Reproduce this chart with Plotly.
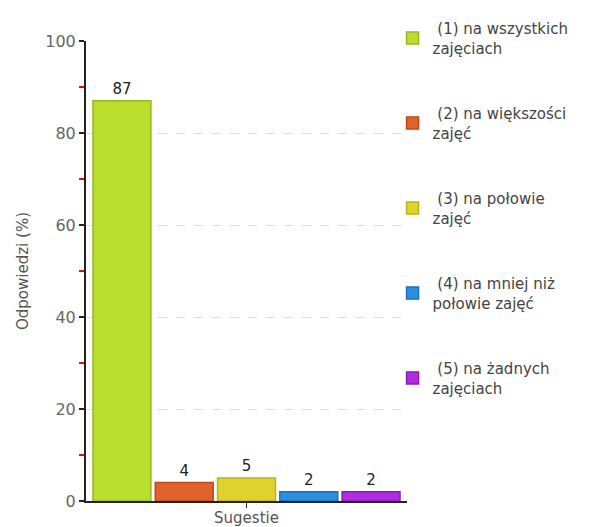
import plotly.graph_objects as go

category = ["Sugestie"]
series_names = [
    " (1) na wszystkich<br>zajęciach",
    " (2) na większości<br>zajęć",
    " (3) na połowie<br>zajęć",
    " (4) na mniej niż<br>połowie zajęć",
    " (5) na żadnych<br>zajęciach",
]
series_values = [87, 4, 5, 2, 2]
fill_colors = ["#bade2e", "#e0632c", "#e0d22c", "#2c90e0", "#b02ee0"]
edge_colors = ["#9ab81c", "#bf4818", "#bfb218", "#1a70bf", "#8e1abf"]
y_ticks = [0, 20, 40, 60, 80, 100]

FONT = "DejaVu Sans"

fig = go.Figure()
for i, (name, val) in enumerate(zip(series_names, series_values)):
    fig.add_trace(go.Bar(
        x=category, y=[val], name=name,
        marker=dict(color=fill_colors[i], line=dict(color=edge_colors[i], width=1.5)),
        text=[str(val)], textposition="outside", cliponaxis=False,
        textfont=dict(family=FONT, size=15, color="#222"),
        legendgroup=str(i),
    ))

fig.update_layout(
    width=606, height=519,
    margin=dict(l=78, r=207, t=33, b=26, autoexpand=False),
    paper_bgcolor="white", plot_bgcolor="white",
    barmode="group", bargap=0.03, bargroupgap=0.07,
    font=dict(family=FONT, size=15, color="#555"),
    legend=dict(
        x=0.955, y=1.063, xanchor="left", yanchor="top",
        font=dict(family=FONT, size=15, color="#444"),
        tracegroupgap=43, itemwidth=30, bgcolor="rgba(0,0,0,0)",
        traceorder="grouped", maxheight=1,
    ),
    showlegend=True,
)
fig.update_yaxes(
    range=[0, 100], tickvals=y_ticks, ticks="outside", ticklen=5, tickcolor="#222",
    tickwidth=1.5,
    showline=True, linecolor="#222", linewidth=2,
    showgrid=True, gridcolor="#dddddd", griddash="dash", gridwidth=1,
    zeroline=False, automargin=False, ticklabelstandoff=0,
    tickfont=dict(family=FONT, size=16, color="#666"),
    minor=dict(dtick=10, ticks="outside", ticklen=5, tickwidth=1.5, tickcolor="#ff0000", showgrid=False),
    title=dict(text="Odpowiedzi (%)", font=dict(family=FONT, size=15, color="#555"), standoff=13),
)
fig.update_xaxes(
    showline=True, linecolor="#222", linewidth=2, automargin=False,
    ticks="outside", ticklen=5, tickcolor="#222", showticklabels=False,
    title=dict(text="Sugestie", font=dict(family=FONT, size=15, color="#555"), standoff=9),
)

fig.write_html("out.html")
